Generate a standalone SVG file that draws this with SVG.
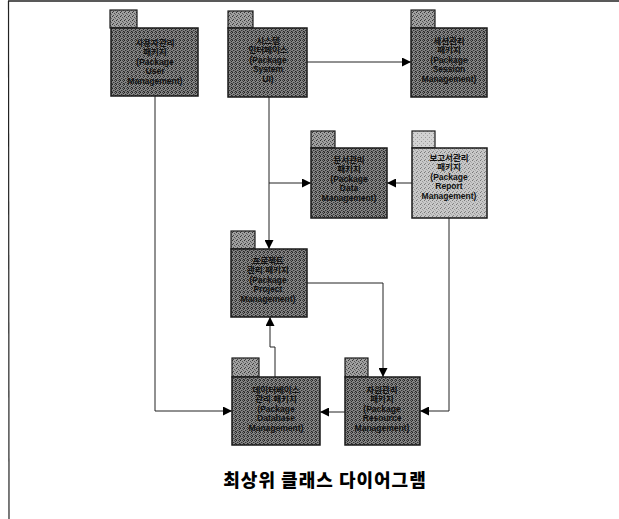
<svg xmlns="http://www.w3.org/2000/svg" width="619" height="519" viewBox="0 0 619 519">
<style>
.tab{fill:url(#tabDark);stroke:#1a1a1a;stroke-width:1.2}
.body{fill:url(#bodyDark);stroke:#1a1a1a;stroke-width:1.5}
.tabL{fill:url(#tabLight);stroke:#1a1a1a;stroke-width:1.2}
.bodyL{fill:url(#bodyLight);stroke:#1a1a1a;stroke-width:1.5}
.lbl{font-family:"Liberation Sans","Noto Sans CJK KR",sans-serif;font-size:8.5px;font-weight:bold;fill:#111;text-anchor:middle}
.con{fill:none;stroke:#222;stroke-width:1}
.title{font-family:"Noto Sans CJK KR","Noto Sans",sans-serif;font-size:18px;font-weight:900;fill:#000;text-anchor:middle}
</style>
<defs>
<pattern id="bodyDark" width="4" height="4" patternUnits="userSpaceOnUse">
<rect width="4" height="4" fill="#858585"/>
<rect x="0" y="0" width="1" height="1" fill="#222"/>
<rect x="2" y="0" width="1" height="1" fill="#444"/>
<rect x="3" y="1" width="1" height="1" fill="#2a2a2a"/>
<rect x="1" y="2" width="1" height="1" fill="#333"/>
<rect x="0" y="3" width="1" height="1" fill="#555"/>
<rect x="3" y="3" width="1" height="1" fill="#222"/>
<rect x="2" y="2" width="1" height="1" fill="#666"/>
</pattern>
<pattern id="tabDark" width="4" height="4" patternUnits="userSpaceOnUse">
<rect width="4" height="4" fill="#a0a0a0"/>
<rect x="0" y="0" width="1" height="1" fill="#333"/>
<rect x="2" y="1" width="1" height="1" fill="#555"/>
<rect x="1" y="3" width="1" height="1" fill="#444"/>
<rect x="3" y="2" width="1" height="1" fill="#666"/>
</pattern>
<pattern id="bodyLight" width="4" height="4" patternUnits="userSpaceOnUse">
<rect width="4" height="4" fill="#c8c8c8"/>
<rect x="0" y="0" width="1" height="1" fill="#777"/>
<rect x="2" y="1" width="1" height="1" fill="#999"/>
<rect x="1" y="3" width="1" height="1" fill="#888"/>
<rect x="3" y="2" width="1" height="1" fill="#aaa"/>
</pattern>
<pattern id="tabLight" width="4" height="4" patternUnits="userSpaceOnUse">
<rect width="4" height="4" fill="#d2d2d2"/>
<rect x="1" y="1" width="1" height="1" fill="#999"/>
<rect x="3" y="3" width="1" height="1" fill="#aaa"/>
</pattern>
<marker id="arr" viewBox="0 0 10 10" refX="10" refY="5" markerWidth="10" markerHeight="9" markerUnits="userSpaceOnUse" orient="auto">
<path d="M0,0 L10,5 L0,10 Z" fill="#000"/>
</marker>
</defs>

<g id="frame">
<line x1="8" y1="1" x2="619" y2="1" stroke="#222" stroke-width="1.5"/>
<line x1="8.5" y1="1" x2="9" y2="519" stroke="#222" stroke-width="1.2"/>
</g>

<g id="connectors">
<path class="con" d="M307,62 H411" marker-end="url(#arr)"/>
<path class="con" d="M269,97 V249" marker-end="url(#arr)"/>
<path class="con" d="M269,183 H311" marker-end="url(#arr)"/>
<path class="con" d="M412,183 H387" marker-end="url(#arr)"/>
<path class="con" d="M307,283 H383 V377" marker-end="url(#arr)"/>
<path class="con" d="M449,218 V411 H420" marker-end="url(#arr)"/>
<path class="con" d="M345,412 H320" marker-end="url(#arr)"/>
<path class="con" d="M155,96 V411 H232" marker-end="url(#arr)"/>
<path class="con" d="M275,377 V347 H270 V317" marker-end="url(#arr)"/>
</g>

<g id="nodeA">
<rect class="tab" x="110" y="10" width="27" height="18"/>
<rect class="body" x="111" y="28" width="87" height="68"/>
<text class="lbl" x="155" y="46">사용자관리</text>
<text class="lbl" x="155" y="55">패키지</text>
<text class="lbl" x="155" y="65">(Package</text>
<text class="lbl" x="155" y="74">User</text>
<text class="lbl" x="155" y="84">Management)</text>
</g>

<g id="nodeB">
<rect class="tab" x="228" y="11" width="25" height="17"/>
<rect class="body" x="228" y="28" width="79" height="69"/>
<text class="lbl" x="268" y="44">시스템</text>
<text class="lbl" x="268" y="53">인터페이스</text>
<text class="lbl" x="268" y="63">(Package</text>
<text class="lbl" x="268" y="72">System</text>
<text class="lbl" x="268" y="82">UI)</text>
</g>

<g id="nodeC">
<rect class="tab" x="411" y="10" width="24" height="18"/>
<rect class="body" x="411" y="28" width="76" height="69"/>
<text class="lbl" x="449" y="44">세션관리</text>
<text class="lbl" x="449" y="53">패키지</text>
<text class="lbl" x="449" y="63">(Package</text>
<text class="lbl" x="449" y="72">Session</text>
<text class="lbl" x="449" y="82">Management)</text>
</g>

<g id="nodeD">
<rect class="tab" x="311" y="131" width="24" height="17"/>
<rect class="body" x="311" y="148" width="76" height="70"/>
<text class="lbl" x="349" y="163">문서관리</text>
<text class="lbl" x="349" y="172">패키지</text>
<text class="lbl" x="349" y="182">(Package</text>
<text class="lbl" x="349" y="191">Data</text>
<text class="lbl" x="349" y="201">Management)</text>
</g>

<g id="nodeE">
<rect class="tabL" x="412" y="131" width="23" height="17"/>
<rect class="bodyL" x="412" y="148" width="75" height="70"/>
<text class="lbl" x="449" y="161">보고서관리</text>
<text class="lbl" x="449" y="170">패키지</text>
<text class="lbl" x="449" y="180">(Package</text>
<text class="lbl" x="449" y="189">Report</text>
<text class="lbl" x="449" y="199">Management)</text>
</g>

<g id="nodeF">
<rect class="tab" x="231" y="231" width="24" height="18"/>
<rect class="body" x="231" y="249" width="76" height="68"/>
<text class="lbl" x="268" y="264">프로젝트</text>
<text class="lbl" x="268" y="273">관리 패키지</text>
<text class="lbl" x="268" y="283">(Package</text>
<text class="lbl" x="268" y="292">Project</text>
<text class="lbl" x="268" y="302">Management)</text>
</g>

<g id="nodeG">
<rect class="tab" x="232" y="358" width="27" height="19"/>
<rect class="body" x="232" y="377" width="88" height="68"/>
<text class="lbl" x="276" y="393">데이터베이스</text>
<text class="lbl" x="276" y="402">관리 패키지</text>
<text class="lbl" x="276" y="412">(Package</text>
<text class="lbl" x="276" y="421">Database</text>
<text class="lbl" x="276" y="431">Management)</text>
</g>

<g id="nodeH">
<rect class="tab" x="345" y="358" width="23" height="19"/>
<rect class="body" x="345" y="377" width="75" height="68"/>
<text class="lbl" x="382" y="393">자원관리</text>
<text class="lbl" x="382" y="402">패키지</text>
<text class="lbl" x="382" y="412">(Package</text>
<text class="lbl" x="382" y="421">Resource</text>
<text class="lbl" x="382" y="431">Management)</text>
</g>

<text class="title" x="325" y="487" letter-spacing="1">최상위 클래스 다이어그램</text>
</svg>
